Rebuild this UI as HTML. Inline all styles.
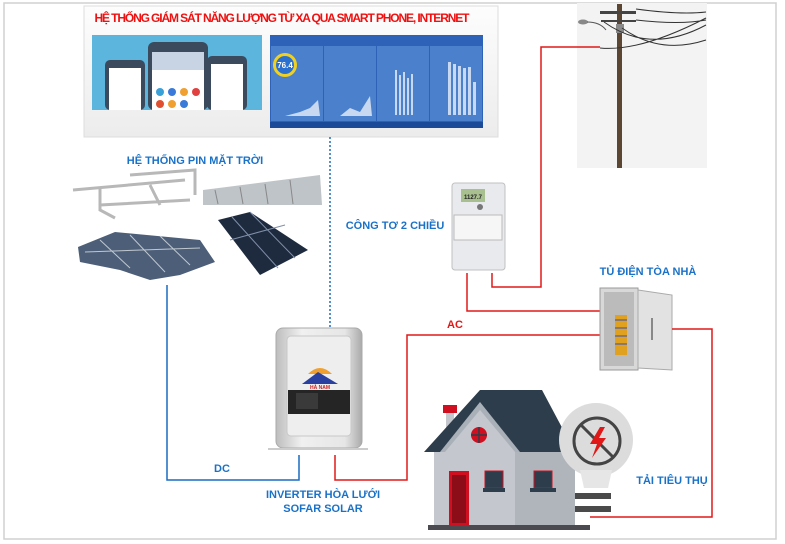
<!DOCTYPE html>
<html><head><meta charset="utf-8"><style>
html,body{margin:0;padding:0;background:#fff}
svg{display:block}
text{font-family:"Liberation Sans",sans-serif;font-weight:bold}
</style></head><body>
<svg width="785" height="544" viewBox="0 0 785 544" xmlns="http://www.w3.org/2000/svg">
<defs>
<linearGradient id="pg" x1="0" y1="0" x2="0" y2="1"><stop offset="0" stop-color="#fdfdfd"/><stop offset="1" stop-color="#ececec"/></linearGradient>
<linearGradient id="inv" x1="0" y1="0" x2="1" y2="0"><stop offset="0" stop-color="#bdbdbd"/><stop offset=".3" stop-color="#f0f0f0"/><stop offset=".8" stop-color="#e6e6e6"/><stop offset="1" stop-color="#aaa"/></linearGradient>
</defs>
<rect x="4" y="3" width="772" height="536" fill="none" stroke="#d0d0d0" stroke-width="1.5"/>
<!-- top panel -->
<rect x="84" y="6" width="414" height="131" fill="url(#pg)" stroke="#ddd"/>
<text x="282" y="22" font-size="12" fill="#f01010" text-anchor="middle" textLength="375">HỆ THỐNG GIÁM SÁT NĂNG LƯỢNG  TỪ XA QUA SMART PHONE, INTERNET</text>
<rect x="92" y="35" width="170" height="75" fill="#5cb5dc"/>
<rect x="105" y="60" width="40" height="50" rx="5" fill="#3c4a5e"/><rect x="109" y="68" width="32" height="42" fill="#fff"/>
<rect x="148" y="42" width="60" height="68" rx="6" fill="#3c4a5e"/><rect x="152" y="52" width="52" height="58" fill="#fff"/>
<rect x="207" y="56" width="40" height="54" rx="5" fill="#3c4a5e"/><rect x="211" y="64" width="32" height="46" fill="#fff"/>
<rect x="152" y="52" width="52" height="18" fill="#c8d4e4"/>
<circle cx="160" cy="92" r="4" fill="#3aa0d8"/><circle cx="172" cy="92" r="4" fill="#3a7ad8"/><circle cx="184" cy="92" r="4" fill="#f0a030"/><circle cx="196" cy="92" r="4" fill="#e04040"/>
<circle cx="160" cy="104" r="4" fill="#e05030"/><circle cx="172" cy="104" r="4" fill="#f0a030"/><circle cx="184" cy="104" r="4" fill="#3a7ad8"/>
<rect x="270" y="35" width="213" height="93" fill="#2d62b8"/>
<g fill="#4a80cc"><rect x="271" y="46" width="52" height="75"/><rect x="324" y="46" width="52" height="75"/><rect x="377" y="46" width="52" height="75"/><rect x="430" y="46" width="52" height="75"/></g>
<g fill="#1a4a98"><rect x="270" y="122" width="213" height="6"/></g>
<circle cx="285" cy="65" r="12" fill="#f0d020"/><circle cx="285" cy="65" r="9" fill="#2a70d0"/>
<text x="285" y="68" font-size="8" fill="#fff" text-anchor="middle">76.4</text>
<g fill="#c8d8f0"><rect x="395" y="70" width="2" height="45"/><rect x="399" y="75" width="2" height="40"/><rect x="403" y="72" width="2" height="43"/><rect x="407" y="78" width="2" height="37"/><rect x="411" y="74" width="2" height="41"/>
<rect x="448" y="62" width="3" height="53"/><rect x="453" y="64" width="3" height="51"/><rect x="458" y="66" width="3" height="49"/><rect x="463" y="68" width="3" height="47"/><rect x="468" y="67" width="3" height="48"/><rect x="473" y="82" width="3" height="33"/></g>
<polygon points="285,116 300,112 310,108 318,100 320,116" fill="#c8d8f0"/>
<polygon points="340,116 350,108 360,112 370,96 372,116" fill="#c8d8f0"/>
<!-- dotted line -->
<line x1="330" y1="137" x2="330" y2="330" stroke="#1a6cc4" stroke-width="1.5" stroke-dasharray="2,2"/>
<!-- pole panel -->
<rect x="577" y="3" width="130" height="165" fill="#f3f3f3"/>
<rect x="617" y="4" width="5" height="164" fill="#5a4632"/>
<rect x="600" y="11" width="36" height="3" fill="#444"/><rect x="601" y="20" width="35" height="2" fill="#444"/>
<rect x="616" y="24" width="8" height="9" fill="#888"/>
<path d="M636,9 Q680,15 706,12 M636,20 Q680,25 706,20 M622,28 Q660,55 706,40 M604,22 Q650,55 706,25 M600,48 Q640,52 706,18" fill="none" stroke="#333"/>
<ellipse cx="583" cy="22" rx="5" ry="2.5" fill="#888"/><path d="M587,22 Q600,22 606,30" stroke="#555" fill="none"/>
<!-- solar -->
<text x="195" y="164" font-size="11" fill="#1a72c8" text-anchor="middle">HỆ THỐNG PIN MẶT TRỜI</text>
<g stroke="#b8b8b8" stroke-width="3" fill="none">
<path d="M73,190 L185,180 M100,205 L190,200 M130,175 L195,170 L195,195 M100,188 L100,210 L115,218 M150,185 L160,205"/>
</g>
<polygon points="203,190 320,175 322,205 203,205" fill="#bfc4c8"/>
<g stroke="#888"><line x1="215" y1="190" x2="218" y2="204"/><line x1="240" y1="187" x2="243" y2="204"/><line x1="265" y1="184" x2="268" y2="204"/><line x1="290" y1="180" x2="293" y2="204"/></g>
<polygon points="78,247 115,232 200,240 215,262 180,275 150,280 120,270 80,262" fill="#4d5e78"/>
<g stroke="#c0c8d0" stroke-width="1"><line x1="100" y1="240" x2="130" y2="268"/><line x1="130" y1="235" x2="165" y2="272"/><line x1="160" y1="236" x2="190" y2="265"/><line x1="85" y1="252" x2="200" y2="248"/></g>
<polygon points="218,220 250,212 308,250 260,275" fill="#1e2a3e"/>
<g stroke="#8090a8" stroke-width="1"><line x1="232" y1="217" x2="278" y2="268"/><line x1="250" y1="212" x2="295" y2="258"/><line x1="230" y1="240" x2="285" y2="225"/></g>
<!-- DC line -->
<polyline points="167,285 167,480 299,480 299,455" fill="none" stroke="#1a6cc4" stroke-width="1.5"/>
<text x="222" y="472" font-size="11" fill="#1a72c8" text-anchor="middle">DC</text>
<!-- inverter -->
<rect x="276" y="328" width="86" height="120" rx="7" fill="url(#inv)" stroke="#aaa"/>
<rect x="287" y="336" width="64" height="100" rx="4" fill="#eee" stroke="#c8c8c8"/>
<path d="M308,374 Q320,362 332,374 Z" fill="#f0a030"/>
<polygon points="302,384 318,372 338,384" fill="#2a40a0"/>
<text x="320" y="389" font-size="5" fill="#d02020" text-anchor="middle">HÀ NAM</text>
<rect x="288" y="390" width="62" height="24" fill="#252525"/>
<rect x="296" y="393" width="22" height="16" fill="#3a3a3a"/>
<rect x="268" y="448" width="100" height="2" fill="#ccc"/>
<text x="323" y="498" font-size="11" fill="#1a72c8" text-anchor="middle">INVERTER HÒA LƯỚI</text>
<text x="323" y="512" font-size="11" fill="#1a72c8" text-anchor="middle">SOFAR SOLAR</text>
<!-- AC line -->
<polyline points="335,455 335,480 407,480 407,335 600,335" fill="none" stroke="#e01818" stroke-width="1.5"/>
<text x="455" y="328" font-size="11" fill="#e01818" text-anchor="middle">AC</text>
<!-- meter -->
<text x="395" y="229" font-size="11" fill="#1a72c8" text-anchor="middle" font-weight="normal">CÔNG TƠ 2 CHIỀU</text>
<rect x="452" y="183" width="53" height="87" rx="3" fill="#e8eaee" stroke="#c0c0c0"/>
<rect x="461" y="189" width="24" height="13" fill="#a8c090"/>
<text x="473" y="199" font-size="6" fill="#222" text-anchor="middle">1127.7</text>
<rect x="454" y="215" width="48" height="25" fill="#f6f6f6" stroke="#bbb"/>
<circle cx="480" cy="207" r="3" fill="#777"/>
<!-- meter lines -->
<polyline points="492,273 492,287 541,287 541,47 600,47" fill="none" stroke="#e01818" stroke-width="1.5"/>
<polyline points="467,273 467,311 600,311" fill="none" stroke="#e01818" stroke-width="1.5"/>
<!-- cabinet -->
<text x="648" y="275" font-size="11" fill="#1a72c8" text-anchor="middle">TỦ ĐIỆN TÒA NHÀ</text>
<rect x="600" y="288" width="38" height="82" fill="#d8d8d8" stroke="#999"/>
<rect x="604" y="292" width="30" height="74" fill="#bbb"/>
<g fill="#e0a020"><rect x="615" y="315" width="12" height="40"/></g>
<g stroke="#3050c0"><line x1="615" y1="320" x2="627" y2="320"/><line x1="615" y1="328" x2="627" y2="328"/><line x1="615" y1="336" x2="627" y2="336"/><line x1="615" y1="344" x2="627" y2="344"/></g>
<polygon points="638,290 672,295 672,370 638,368" fill="#e2e2e2" stroke="#aaa"/>
<line x1="652" y1="318" x2="652" y2="340" stroke="#888" stroke-width="2"/>
<polyline points="672,329 712,329 712,517 590,517" fill="none" stroke="#e01818" stroke-width="1.5"/>
<!-- house -->
<rect x="443" y="405" width="14" height="8" fill="#d01020"/>
<rect x="446" y="413" width="8" height="30" fill="#c4c8ce"/>
<polygon points="424,452 480,390 542,390 575,452" fill="#2d3d4c"/>
<polygon points="440,452 480,402 520,452" fill="#aab0b8"/>
<rect x="434" y="452" width="136" height="76" fill="#c4c8ce"/>
<polygon points="445,452 480,410 515,452 515,528 445,528" fill="#c4c8ce"/>
<rect x="515" y="452" width="60" height="76" fill="#b0b5bc"/>
<circle cx="479" cy="435" r="8" fill="#d01020"/><path d="M479,427 V443 M471,435 H487" stroke="#2d3d4c" stroke-width="1.5"/>
<rect x="449" y="471" width="20" height="55" fill="#d01020"/><rect x="452" y="475" width="14" height="48" fill="#8c0c18"/>
<rect x="485" y="471" width="18" height="17" fill="#2d3d4c" stroke="#d01020"/><rect x="483" y="488" width="22" height="4" fill="#2d3d4c"/>
<rect x="534" y="471" width="18" height="17" fill="#2d3d4c" stroke="#d01020"/><rect x="530" y="488" width="26" height="4" fill="#2d3d4c"/>
<rect x="428" y="525" width="162" height="5" fill="#4a4a50"/>
<!-- bulb -->
<circle cx="596" cy="440" r="37" fill="#dcdcdc"/>
<path d="M580,470 L612,470 L608,488 L584,488 Z" fill="#e6e6e6"/>
<rect x="575" y="493" width="36" height="6" fill="#4a4a4a"/><rect x="575" y="506" width="36" height="6" fill="#4a4a4a"/>
<circle cx="597" cy="441" r="23" fill="none" stroke="#444" stroke-width="3"/>
<line x1="581" y1="425" x2="613" y2="457" stroke="#444" stroke-width="3"/>
<polygon points="600,427 590,444 597,444 592,458 606,438 599,438 605,427" fill="#e01818"/>
<text x="672" y="484" font-size="11" fill="#1a72c8" text-anchor="middle">TẢI TIÊU THỤ</text>
</svg>
</body></html>
